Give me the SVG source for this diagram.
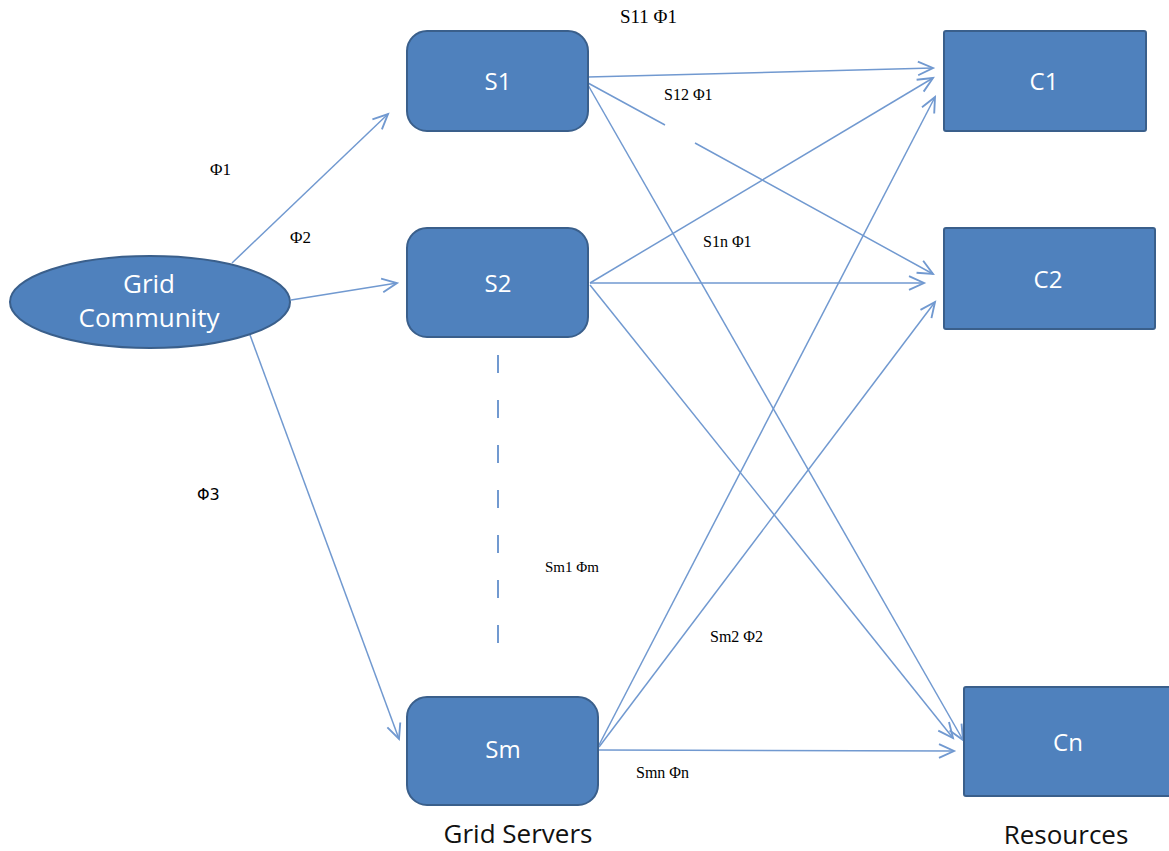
<svg xmlns="http://www.w3.org/2000/svg" width="1169" height="851" viewBox="0 0 1169 851">
<style>
.node{fill:#4f81bd;stroke:#3a5f8b;stroke-width:2}
.nt{font-family:"Open Sans","Liberation Sans",sans-serif;font-size:24px;fill:#ffffff;text-anchor:middle}
.cap{font-family:"Open Sans","Liberation Sans",sans-serif;font-size:26px;fill:#111111;text-anchor:middle}
.lbl{font-family:"Liberation Serif","Times New Roman",serif;font-size:16px;fill:#000000}
.edge{fill:none;stroke:#7199d0;stroke-width:1.5;marker-end:url(#arr)}
</style>
<defs>
<marker id="arr" markerUnits="userSpaceOnUse" markerWidth="20" markerHeight="20" viewBox="-14 -8 16 16" refX="0" refY="0" orient="auto">
<path d="M -12 -5.5 L 0 0 L -12 5.5" fill="none" stroke="#7199d0" stroke-width="1.5"/>
</marker>
</defs>
<rect width="1169" height="851" fill="#ffffff"/>
<g id="connectors">
<line class="edge" x1="232" y1="263" x2="388" y2="114"/>
<line class="edge" x1="291" y1="300" x2="397" y2="283"/>
<line class="edge" x1="250" y1="335" x2="399" y2="739"/>
<line class="edge" x1="588" y1="77" x2="933" y2="68"/>
<path class="edge" d="M 588 83 L 665 125 M 695 143 L 933 274"/>
<line class="edge" x1="588" y1="85" x2="963" y2="740"/>
<line class="edge" x1="590" y1="283" x2="933" y2="78"/>
<line class="edge" x1="590" y1="283" x2="924" y2="283"/>
<line class="edge" x1="590" y1="285" x2="953" y2="738"/>
<line class="edge" x1="599" y1="745" x2="935" y2="97"/>
<line class="edge" x1="599" y1="747" x2="935" y2="302"/>
<line class="edge" x1="599" y1="750" x2="954" y2="751"/>
<line x1="498" y1="355" x2="498" y2="670" stroke="#7199d0" stroke-width="2" stroke-dasharray="18 27"/>
</g>
<g id="grid-community">
<ellipse class="node" cx="150" cy="302" rx="140" ry="46"/>
<text class="nt" x="149" y="293" style="font-size:26px">Grid</text>
<text class="nt" x="149" y="327" style="font-size:26px">Community</text>
</g>
<g id="S1">
<rect class="node" x="407" y="31" width="181" height="100" rx="20"/>
<text class="nt" x="498" y="90">S1</text>
</g>
<g id="S2">
<rect class="node" x="407" y="228" width="181" height="109" rx="20"/>
<text class="nt" x="498" y="292">S2</text>
</g>
<g id="Sm">
<rect class="node" x="407" y="697" width="191" height="108" rx="20"/>
<text class="nt" x="503" y="758">Sm</text>
</g>
<g id="C1">
<rect class="node" x="944" y="31" width="202" height="100" rx="2"/>
<text class="nt" x="1044" y="90">C1</text>
</g>
<g id="C2">
<rect class="node" x="944" y="228" width="211" height="101" rx="2"/>
<text class="nt" x="1048" y="288">C2</text>
</g>
<g id="Cn">
<rect class="node" x="964" y="687" width="215" height="109" rx="2"/>
<text class="nt" x="1068" y="751">Cn</text>
</g>
<g id="labels">
<text class="lbl" x="620" y="23" style="font-size:19px">S11 Φ1</text>
<text class="lbl" x="664" y="100">S12 Φ1</text>
<text class="lbl" x="703" y="247">S1n Φ1</text>
<text class="lbl" x="545" y="572" style="font-size:15px">Sm1 Φm</text>
<text class="lbl" x="710" y="642">Sm2 Φ2</text>
<text class="lbl" x="636" y="778">Smn Φn</text>
<text class="lbl" x="210" y="175" style="font-size:17px">Φ1</text>
<text class="lbl" x="290" y="243" style="font-size:17px">Φ2</text>
<text class="lbl" x="197" y="500" style="font-family:'DejaVu Sans','Liberation Sans',sans-serif;font-size:16px">Φ3</text>
<text class="cap" x="518" y="843">Grid Servers</text>
<text class="cap" x="1066" y="844">Resources</text>
</g>
</svg>
